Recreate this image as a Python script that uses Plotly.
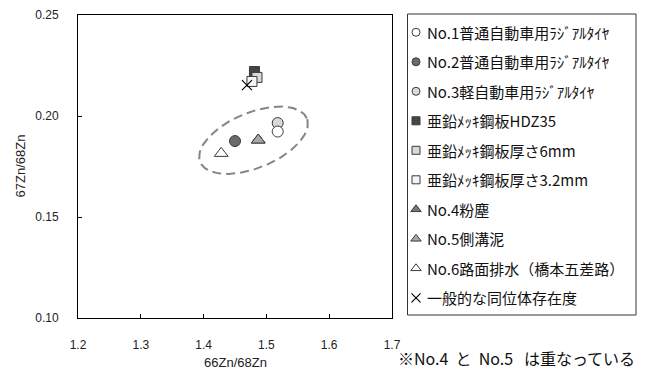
import numpy as np
import plotly.graph_objects as go

W, H = 645, 369

# Zinc isotope ratios by sample
names = [
    "No.1普通自動車用ﾗｼﾞｱﾙﾀｲﾔ",
    "No.2普通自動車用ﾗｼﾞｱﾙﾀｲﾔ",
    "No.3軽自動車用ﾗｼﾞｱﾙﾀｲﾔ",
    "亜鉛ﾒｯｷ鋼板HDZ35",
    "亜鉛ﾒｯｷ鋼板厚さ6mm",
    "亜鉛ﾒｯｷ鋼板厚さ3.2mm",
    "No.4粉塵",
    "No.5側溝泥",
    "No.6路面排水（橋本五差路）",
    "一般的な同位体存在度",
]
zn66_68 = [1.518, 1.450, 1.518, 1.481, 1.485, 1.477, 1.487, 1.487, 1.428, 1.469]
zn67_68 = [0.1923, 0.1876, 0.1965, 0.2220, 0.2191, 0.2171, 0.1881, 0.1881, 0.1815, 0.2153]

symbols = ["circle", "circle", "circle", "square", "square", "square",
           "triangle-up", "triangle-up", "triangle-up", "x-thin"]
fills = ["#ffffff", "#6b6b6b", "#d9d9d9", "#454545", "#d9d9d9", "#f4f4f4",
         "#787878", "#a8a8a8", "#ffffff", "#000000"]
plot_sizes = [11, 11, 11, 10, 10, 10, 12, 12, 12, 10]
legend_sizes = [8, 8, 8, 8, 8, 8, 9, 9, 9, 9]

x_range = [1.2, 1.7]
y_range = [0.10, 0.25]

# plot box in pixels
PL, PR, PT, PB = 78, 392, 15, 318
# legend box in pixels
LL, LR, LT, LB = 407.5, 636, 14, 315


def px_x(v):
    return v / W


def px_y(v):
    return 1 - v / H


fig = go.Figure()

# dashed ellipse enclosing the environmental samples
ell_cx, ell_cy = 1.4795, 0.1880
ell_a, ell_b, ell_ang = 57.6, 27.7, np.deg2rad(22.3)  # pixel semi-axes, tilt
sx = (PR - PL) / (x_range[1] - x_range[0])
sy = (PB - PT) / (y_range[1] - y_range[0])
t = np.linspace(0, 2 * np.pi, 200)
dx = ell_a * np.cos(t) * np.cos(ell_ang) - ell_b * np.sin(t) * np.sin(ell_ang)
dy = ell_a * np.cos(t) * np.sin(ell_ang) + ell_b * np.sin(t) * np.cos(ell_ang)
fig.add_trace(go.Scatter(
    x=ell_cx + dx / sx, y=ell_cy + dy / sy, mode="lines",
    line=dict(color="#858585", width=2, dash="9px,5px"),
    hoverinfo="skip", showlegend=False))

draw_order = [1, 8, 6, 7, 2, 0, 3, 4, 5, 9]
for i in draw_order:
    is_x = symbols[i] == "x-thin"
    fig.add_trace(go.Scatter(
        x=[zn66_68[i]], y=[zn67_68[i]], mode="markers", name=names[i],
        marker=dict(symbol=symbols[i], size=plot_sizes[i], color=fills[i],
                    line=dict(color="#000000" if is_x else "#3a3a3a",
                              width=1.2 if is_x else 1)),
        showlegend=False))

# legend drawn on its own hidden axes
n = len(names)
row0, row_step = 18.3, 29.5
leg_y = [row0 + row_step * k for k in range(n)]
for k in range(n):
    is_x = symbols[k] == "x-thin"
    fig.add_trace(go.Scatter(
        x=[8.5], y=[leg_y[k]], xaxis="x2", yaxis="y2", mode="markers",
        marker=dict(symbol=symbols[k], size=legend_sizes[k], color=fills[k],
                    line=dict(color="#000000" if is_x else "#3a3a3a",
                              width=1.2 if is_x else 1)),
        hoverinfo="skip", showlegend=False))
    fig.add_annotation(x=17, y=leg_y[k], xref="x2", yref="y2", text=names[k],
                       showarrow=False, xanchor="left", yanchor="middle",
                       font=dict(family="Noto Sans CJK JP", size=15, color="#111111"))

fig.add_shape(type="rect", xref="x2 domain", yref="y2 domain", x0=0, x1=1, y0=0, y1=1,
              line=dict(color="#333333", width=1), fillcolor="rgba(0,0,0,0)")

# axis titles and note
fig.add_annotation(x=px_x((PL + PR) / 2), y=px_y(362), xref="paper", yref="paper",
                   text="66Zn/68Zn", showarrow=False, xanchor="center", yanchor="middle",
                   font=dict(family="Liberation Sans", size=13, color="#222222"))
fig.add_annotation(x=px_x(20), y=px_y((PT + PB) / 2), xref="paper", yref="paper",
                   text="67Zn/68Zn", showarrow=False, textangle=-90,
                   xanchor="center", yanchor="middle",
                   font=dict(family="Liberation Sans", size=13, color="#222222"))
nb = "\u00a0"
fig.add_annotation(x=px_x(637), y=px_y(358), xref="paper", yref="paper",
                   text="※No.4" + nb * 2 + "と" + nb * 2 + "No.5" + nb * 3 + "は重なっている",
                   showarrow=False, xanchor="right", yanchor="middle",
                   font=dict(family="Noto Sans CJK JP", size=16, color="#111111"))

tick_font = dict(family="Liberation Sans", size=12, color="#222222")
fig.update_layout(
    width=W, height=H,
    margin=dict(l=0, r=0, t=0, b=0, autoexpand=False),
    paper_bgcolor="white", plot_bgcolor="white",
    showlegend=False,
    xaxis=dict(domain=[px_x(PL), px_x(PR)], range=x_range, dtick=0.1, tick0=1.2,
               tickformat=".1f", ticks="inside", ticklen=4, tickcolor="#000000",
               showline=True, mirror=True, linecolor="#000000", linewidth=1,
               showgrid=False, zeroline=False, tickfont=tick_font,
               ticklabelstandoff=16, automargin=False, fixedrange=True),
    yaxis=dict(domain=[px_y(PB), px_y(PT)], range=y_range, dtick=0.05, tick0=0.10,
               tickformat=".2f", ticks="inside", ticklen=4, tickcolor="#000000",
               showline=True, mirror=True, linecolor="#000000", linewidth=1,
               showgrid=False, zeroline=False, tickfont=tick_font,
               ticklabelstandoff=16, automargin=False, fixedrange=True),
    xaxis2=dict(domain=[px_x(LL), px_x(LR)], range=[0, LR - LL], visible=False,
                anchor="y2", automargin=False, fixedrange=True),
    yaxis2=dict(domain=[px_y(LB), px_y(LT)], range=[LB - LT, 0], visible=False,
                anchor="x2", automargin=False, fixedrange=True),
)

fig.write_html("out.html")
